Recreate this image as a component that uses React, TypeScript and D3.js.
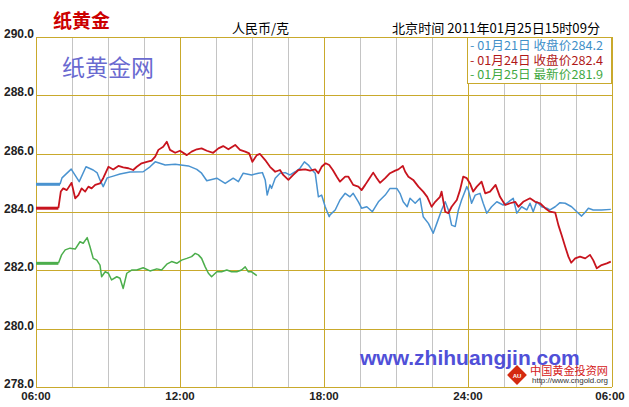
import React from "react";
import * as d3 from "d3";

// minutes after 06:00, price
const series0121: [number, number][] = [
  [0,284.95],[60,284.95],[65,285.17],[88,285.47],[108,285.04],[125,285.55],[143,285.44],[153,285.34],[160,285.10],[168,284.87],[178,285.17],[193,285.23],[210,285.30],[235,285.37],[268,285.38],[285,285.55],[298,285.72],[323,285.61],[348,285.64],[381,285.58],[402,285.46],[414,285.33],[427,285.07],[452,285.16],[473,284.98],[493,285.16],[506,285.04],[518,285.33],[539,285.27],[556,285.33],[566,285.35],[573,285.10],[578,284.58],[585,284.93],[589,284.81],[598,285.16],[610,285.33],[623,285.35],[635,285.27],[648,285.38],[660,285.50],[671,285.72],[681,285.61],[689,285.46],[698,285.33],[706,284.52],[714,284.58],[723,284.18],[733,283.84],[735,283.90],[748,284.07],[760,284.41],[773,284.64],[785,284.52],[793,284.64],[806,284.35],[814,284.13],[827,284.18],[841,284.01],[856,284.35],[873,284.58],[885,284.81],[902,284.81],[910,284.64],[918,284.35],[928,284.18],[935,284.47],[948,284.30],[960,284.47],[968,283.84],[981,283.61],[993,283.27],[1002,283.61],[1014,284.07],[1023,284.35],[1031,284.07],[1039,283.55],[1048,283.50],[1056,284.07],[1064,284.41],[1077,284.87],[1081,284.75],[1089,284.30],[1098,284.58],[1110,284.64],[1118,284.30],[1127,283.96],[1139,284.18],[1152,284.35],[1168,284.24],[1177,284.30],[1193,284.47],[1202,283.96],[1214,284.18],[1227,284.07],[1235,284.30],[1243,284.01],[1252,284.35],[1264,284.18],[1277,284.13],[1285,284.07],[1298,284.18],[1310,284.32],[1323,284.30],[1339,284.18],[1352,284.01],[1364,283.86],[1374,284.01],[1381,284.13],[1393,284.07],[1414,284.07],[1437,284.09]
];

const series0124: [number, number][] = [
  [0,284.13],[56,284.13],[62,284.70],[68,284.81],[77,284.75],[89,285.00],[98,284.47],[106,284.58],[114,284.81],[123,284.70],[131,284.87],[139,284.81],[148,284.93],[160,284.98],[168,285.16],[181,285.55],[193,285.46],[206,285.58],[218,285.53],[231,285.50],[243,285.44],[252,285.55],[264,285.67],[277,285.72],[289,285.76],[298,285.90],[306,286.13],[318,286.24],[327,286.41],[335,286.13],[348,286.03],[360,286.10],[377,285.95],[389,286.07],[402,286.15],[414,286.18],[427,286.10],[443,286.03],[456,286.18],[468,286.26],[481,286.15],[498,286.30],[510,286.13],[523,286.07],[533,286.01],[541,285.72],[552,285.95],[560,285.99],[573,285.78],[585,285.55],[598,285.38],[610,285.44],[618,285.27],[631,285.10],[643,285.27],[656,285.44],[673,285.46],[685,285.42],[698,285.46],[706,285.33],[714,285.55],[724,285.67],[733,285.61],[742,285.44],[752,285.21],[760,285.04],[773,285.21],[781,285.21],[793,284.93],[806,284.87],[814,284.75],[823,284.93],[831,285.10],[843,285.35],[852,285.16],[860,285.00],[873,285.16],[885,285.33],[898,285.42],[906,285.46],[917,285.58],[923,285.38],[931,285.21],[943,285.10],[956,284.87],[968,284.70],[978,284.52],[989,284.18],[998,284.35],[1010,284.52],[1014,284.70],[1023,284.01],[1031,283.96],[1039,284.18],[1052,284.41],[1060,284.75],[1068,285.21],[1077,285.16],[1085,284.98],[1093,284.70],[1102,284.87],[1114,285.04],[1123,284.64],[1135,284.70],[1149,284.93],[1160,284.52],[1173,284.24],[1185,284.30],[1198,284.35],[1206,284.18],[1218,284.35],[1235,284.47],[1248,284.35],[1260,284.30],[1273,284.13],[1285,284.01],[1298,283.98],[1306,283.55],[1314,283.21],[1323,282.81],[1331,282.47],[1338,282.26],[1348,282.41],[1360,282.47],[1373,282.41],[1385,282.53],[1393,282.35],[1402,282.07],[1414,282.18],[1427,282.24],[1437,282.30]
];

const series0125: [number, number][] = [
  [0,282.24],[56,282.24],[64,282.53],[73,282.70],[85,282.76],[98,282.73],[110,282.98],[118,282.93],[128,283.12],[135,282.81],[143,282.41],[152,282.35],[160,282.18],[164,281.78],[173,281.95],[181,281.90],[189,281.67],[202,281.78],[210,281.73],[218,281.38],[227,281.90],[239,282.01],[252,282.01],[268,282.09],[285,281.98],[302,282.05],[314,282.01],[327,282.21],[339,282.30],[352,282.24],[364,282.35],[377,282.41],[389,282.47],[398,282.58],[406,282.53],[414,282.41],[423,282.12],[431,281.90],[439,281.78],[452,281.95],[464,281.95],[477,282.01],[489,281.95],[502,281.95],[514,282.01],[523,282.12],[531,281.95],[539,281.95],[552,281.82]
];

const yTicks = [278, 280, 282, 284, 286, 288, 290];
const xTickLabels = ["06:00", "12:00", "18:00", "24:00", "06:00"];
const legendItems = [
  "- 01月21日 收盘价284.2",
  "- 01月24日 收盘价282.4",
  "- 01月25日 最新价281.9",
];
const titleText = "纸黄金";
const unitText = "人民币/克";
const timeText = "北京时间  2011年01月25日15时09分";

const L = 36, R = 612, T = 37, B = 387;
const GOLD = "#c9a92c";
const GRAY = "#c4c4c4";
const COLORS = ["#4a93d0", "#c8141e", "#4cae4c"];
const LEGEND_COLORS = ["#3f8fc8", "#b01818", "#3fa83f"];

export default function App() {
  const x = d3.scaleLinear().domain([0, 1440]).range([L, R]);
  const y = d3.scaleLinear().domain([278, 290]).range([B, T]);
  const line = d3.line<[number, number]>().x(d => x(d[0])).y(d => y(d[1]));
  const minorTicks = d3.range(0, 1441, 90);
  const majorTicks = d3.range(0, 1441, 360);
  const all = [series0121, series0124, series0125];

  return (
    <svg width={629} height={407} style={{ position: "absolute", left: 0, top: 0, background: "#fff" }}
      fontFamily="'Liberation Sans', Arial, sans-serif">
      <rect x={0} y={0} width={629} height={407} fill="#fff" />
      {/* minor vertical grid */}
      {minorTicks.filter(t => t % 360 !== 0).map(t => (
        <line key={"mv" + t} x1={x(t) + 0.5} x2={x(t) + 0.5} y1={T} y2={B} stroke={GRAY} strokeWidth={1} />
      ))}
      {/* horizontal grid */}
      {yTicks.map(v => (
        <line key={"h" + v} x1={L} x2={R} y1={Math.round(y(v)) + 0.5} y2={Math.round(y(v)) + 0.5} stroke={GOLD} strokeWidth={1} />
      ))}
      {/* major vertical grid */}
      {majorTicks.map(t => (
        <line key={"Mv" + t} x1={x(t) + 0.5} x2={x(t) + 0.5} y1={T} y2={B} stroke={GOLD} strokeWidth={1} />
      ))}
      {/* legend box */}
      <rect x={467.5} y={37.5} width={144} height={46} fill="#fff" stroke={GOLD} strokeWidth={1} />
      {legendItems.map((s, i) => (
        <text key={"lg" + i} x={470} y={50 + i * 14.5} fontSize={12} fill={LEGEND_COLORS[i]}
          fontFamily="'Noto Sans CJK SC', sans-serif" textLength={133} lengthAdjust="spacingAndGlyphs">{s}</text>
      ))}
      {/* watermarks */}
      <text x={62} y={76} fontSize={23} fill="#6a6ad0" fontFamily="'Noto Sans CJK SC', sans-serif">纸黄金网</text>
      <text x={360} y={365} fontSize={21} fontWeight="bold" fill="#5050d8">www.zhihuangjin.com</text>
      <g>
        <rect x={510} y={368} width={14} height={14} fill="#d42a10" transform="rotate(45 517 375)" />
        <text x={517} y={377.5} fontSize={6} fill="#fff" textAnchor="middle" fontWeight="bold">AU</text>
        <text x={530} y={375} fontSize={11} fill="#d42020" fontFamily="'Noto Sans CJK SC', sans-serif" textLength={78} lengthAdjust="spacingAndGlyphs">中国黄金投资网</text>
        <text x={532} y={383} fontSize={7.5} fill="#333" textLength={76} lengthAdjust="spacingAndGlyphs">http://www.cngold.org</text>
      </g>
      {/* lines */}
      {all.map((s, i) => (
        <g key={"s" + i}>
          <path d={line(s.slice(0, 2)) || ""} fill="none" stroke={COLORS[i]} strokeWidth={3} />
          <path d={line(s.slice(1)) || ""} fill="none" stroke={COLORS[i]} strokeWidth={i === 1 ? 1.8 : 1.5} strokeLinejoin="round" />
        </g>
      ))}
      {/* y labels */}
      {yTicks.map(v => (
        <text key={"yl" + v} x={34} y={y(v) + 1} fontSize={12} fontWeight="bold" fill="#222" textAnchor="end">{v.toFixed(1)}</text>
      ))}
      {/* x labels */}
      {majorTicks.map((t, i) => (
        <text key={"xl" + t} x={i === 4 ? x(t) - 2 : x(t)} y={400} fontSize={11.5} fontWeight="bold" fill="#222" textAnchor="middle">{xTickLabels[i]}</text>
      ))}
      {/* header */}
      <text x={53} y={28} fontSize={19} fontWeight="bold" fill="#cc0000" fontFamily="'Noto Sans CJK SC', sans-serif">{titleText}</text>
      <text x={232} y={33} fontSize={13} fill="#000" fontFamily="'Noto Sans CJK SC', sans-serif">{unitText}</text>
      <text x={392} y={33} fontSize={13} fill="#000" fontFamily="'Noto Sans CJK SC', sans-serif" textLength={208} lengthAdjust="spacingAndGlyphs">{timeText}</text>
    </svg>
  );
}
